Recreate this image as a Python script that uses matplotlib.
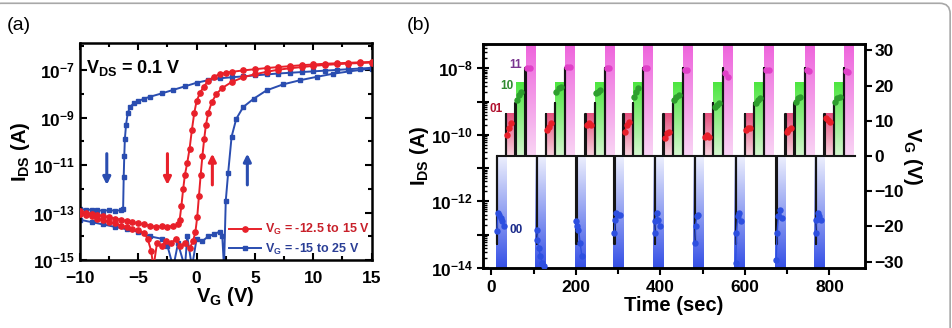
import matplotlib
matplotlib.use('Agg')
import matplotlib.pyplot as plt
import matplotlib.ticker as mticker
from matplotlib.colors import LinearSegmentedColormap
from matplotlib.patches import FancyBboxPatch
import numpy as np

plt.rcParams.update({
    'font.family': 'Liberation Sans',
    'font.weight': 'bold',
    'axes.labelweight': 'bold',
    'mathtext.fontset': 'custom',
    'mathtext.rm': 'Liberation Sans:bold',
    'mathtext.bf': 'Liberation Sans:bold',
    'mathtext.it': 'Liberation Sans:bold',
    'axes.linewidth': 1.8,
    'figure.facecolor': 'white',
})

# ─── (a) transfer curves: V_G (V) and log10(I_DS / A) ───────────────
red_down_v = [15, 14, 13, 12, 11, 10, 9, 8, 7, 6, 5, 4, 3, 2.5, 2, 1.5, 1.0, 0.6, 0.3, 0.0,
              -0.2, -0.4, -0.6, -0.8, -1.0, -1.15, -1.3, -1.45, -1.6, -2, -2.5, -3, -3.5, -4,
              -4.5, -5, -5.5, -6, -6.5, -7, -7.5, -8, -8.5, -9, -9.5, -10]
red_down_log = [-6.65, -6.67, -6.69, -6.71, -6.73, -6.76, -6.79, -6.83, -6.87, -6.91, -6.96, -7.01,
                -7.07, -7.11, -7.17, -7.27, -7.45, -7.7, -7.95, -8.3, -8.8, -9.5, -10.3, -10.9,
                -11.4, -12.0, -12.7, -13.3, -13.5, -13.55, -13.6, -13.58, -13.6, -13.55, -13.5,
                -13.45, -13.4, -13.35, -13.3, -13.25, -13.2, -13.15, -13.1, -13.05, -13.0, -12.95]
red_up_v = [-10, -9.5, -9, -8.5, -8, -7.5, -7, -6.5, -6, -5.5, -5, -4.5, -4.2, -3.9, -3.7, -3.4,
            -3.0, -2.6, -2.2, -1.8, -1.4, -1.0, -0.6, -0.3, -0.1, 0.05, 0.2, 0.35, 0.5, 0.65,
            0.8, 1.0, 1.3, 1.7, 2.2, 3, 4, 5, 6, 7, 8, 9, 10, 11, 12, 13, 14, 15]
red_up_log = [-13.05, -13.1, -13.15, -13.25, -13.3, -13.4, -13.45, -13.55, -13.6, -13.7, -13.75,
              -13.85, -14.1, -14.6, -15.3, -14.3, -14.4, -14.2, -14.3, -14.1, -14.4, -14.3, -14.5,
              -14.2, -13.8, -13.2, -12.3, -11.4, -10.6, -9.9, -9.3, -8.8, -8.35, -8.0, -7.75,
              -7.5, -7.3, -7.17, -7.07, -6.98, -6.92, -6.87, -6.82, -6.78, -6.75, -6.72, -6.7, -6.68]
blue_down_v = [15, 14, 13, 12, 11, 10, 9, 8, 7, 6, 5, 4, 3, 2, 1, 0, -1, -2, -3, -4, -4.5, -5,
               -5.4, -5.7, -5.9, -6.05, -6.15, -6.2, -6.25, -6.3, -6.5, -7, -7.5, -8, -8.5, -9,
               -9.5, -10]
blue_down_log = [-6.9, -6.93, -6.96, -6.99, -7.02, -7.05, -7.08, -7.11, -7.14, -7.18, -7.22, -7.26,
                 -7.3, -7.34, -7.42, -7.53, -7.68, -7.83, -7.98, -8.12, -8.2, -8.3, -8.4, -8.55,
                 -8.8, -9.3, -9.9, -10.6, -11.5, -12.85, -12.9, -12.92, -12.9, -12.92, -12.9,
                 -12.88, -12.87, -12.85]
blue_up_v = [-10, -9, -8, -7, -6, -5, -4, -3, -2.5, -2, -1.6, -1, -0.8, -0.4, 0, 0.5, 1, 1.5,
             2.0, 2.2, 2.35, 2.5, 2.7, 3.0, 3.4, 4, 4.9, 6, 7.4, 8.9, 10.3, 11.7, 13.1, 15]
blue_up_log = [-13.3, -13.4, -13.5, -13.6, -13.7, -13.8, -14.0, -14.1, -14.4, -15.3, -14.3,
               -15.3, -14.0, -15.3, -14.1, -14.2, -14.0, -13.9, -13.8, -14.0, -15.3, -12.5,
               -11.35, -9.8, -9.05, -8.55, -8.2, -7.85, -7.6, -7.42, -7.28, -7.15, -7.05, -6.93]

arrow_v = [-7.7, -2.5, 1.35, 4.35]
arrow_dir = [-1, -1, 1, 1]
arrow_col = ['#2A4DB0', '#E8202A', '#E8202A', '#2A4DB0']

# ─── (b) retention of four states over time ─────────────────────────
cycle_start = [10, 104, 198, 288, 383, 478, 575, 671, 764]
states = ['00', '01', '10', '11']
band_t0 = [0, 25, 47, 71]
band_t1 = [24, 47, 71, 94]
band_vlo = [-32, 0, 0, 0]
band_vhi = [0, 12, 21, 32]
band_top_col = ['#EEF0FD', '#E5507E', '#4DE640', '#EE62DC']
band_bot_col = ['#3550E6', '#F9D3DF', '#D5F7CF', '#F9D4F4']
pulse_off = [3, 24, 46, 70]
pulse_amp = [-25, 12, 15, 25]
pulse_w = 1
wave_end = 860

pt_off = [[3, 5, 8, 12, 16, 20], [28, 32, 37], [50, 55, 60], [75, 81]]
log_00 = [[-12.9, -12.35, -12.4, -12.5, -12.6, -12.75], [-12.85, -13.15, -13.4, -13.65, -13.85, -13.95],
          [-12.6, -12.75, -12.85, -13.25, -13.65], [-12.95, -12.55, -12.35, -12.4, -12.4],
          [-12.95, -12.6, -12.35, -12.55, -12.75], [-13.25, -12.75, -12.45, -12.4],
          [-13.85, -12.95, -12.45, -12.35, -12.6], [-13.75, -12.95, -12.45, -12.25, -12.5],
          [-12.95, -12.55, -12.35, -12.45, -12.55]]
log_01 = [[-10.0, -9.8, -9.65], [-9.85, -9.75, -9.65], [-9.7, -9.65, -9.7], [-9.9, -9.7, -9.6],
          [-10.1, -9.95, -9.9], [-10.05, -10.0, -10.05], [-9.85, -9.8, -9.8], [-9.9, -9.85, -9.8],
          [-9.5, -9.55, -9.6]]
log_10 = [[-8.95, -8.8, -8.7], [-8.7, -8.6, -8.55], [-8.75, -8.7, -8.65], [-8.85, -8.7, -8.6],
          [-8.95, -8.85, -8.8], [-9.15, -9.1, -9.05], [-9.05, -8.95, -8.9], [-9.0, -8.9, -8.85],
          [-9.0, -8.9, -8.85]]
log_11 = [[-8.0, -7.98], [-7.95, -7.95], [-7.98, -8.0], [-8.0, -8.0], [-8.05, -8.05],
          [-8.15, -8.25], [-8.05, -8.05], [-8.05, -8.07], [-8.08, -8.1]]
state_logs = [log_00, log_01, log_10, log_11]
pt_col = ['#2D4FE0', '#E8202A', '#2E9E2E', '#E040C8']
lbl_col = ['#1A2A8A', '#B0102E', '#2F8A2F', '#7A3590']
lbl_t = [58, 12, 36, 58]
lbl_log = [-12.85, -9.23, -8.53, -7.9]

fig = plt.figure(figsize=(9.53, 3.28), dpi=100)

# ---------- panel (a)
ax = fig.add_axes([0.0839, 0.207, 0.306, 0.662])
ax.plot(red_down_v, 10 ** np.array(red_down_log), '-o', color='#E8202A', ms=3.8, lw=1.4, zorder=3)
ax.plot(red_up_v, 10 ** np.array(red_up_log), '-o', color='#E8202A', ms=3.8, lw=1.4, zorder=3,
        label=r'$\mathbf{V_G}$ = -12.5 to 15 V')
ax.plot(blue_down_v, 10 ** np.array(blue_down_log), '-s', color='#2A4DB0', ms=3.5, lw=1.4, zorder=2)
ax.plot(blue_up_v, 10 ** np.array(blue_up_log), '-s', color='#2A4DB0', ms=3.5, lw=1.4, zorder=2,
        label=r'$\mathbf{V_G}$ = -15 to 25 V')
for v, d, c in zip(arrow_v, arrow_dir, arrow_col):
    lo, hi = 10 ** -11.95, 10 ** -10.4
    start, end = (hi, lo) if d < 0 else (lo, hi)
    ax.annotate('', xy=(v, end), xytext=(v, start),
                arrowprops=dict(arrowstyle='-|>', color=c, lw=2.2, mutation_scale=11))
ax.set_yscale('log')
ax.set_xlim(-10, 15)
ax.set_ylim(1e-15, 1.4e-6)
ax.set_xticks([-10, -5, 0, 5, 10, 15])
ax.xaxis.set_minor_locator(mticker.MultipleLocator(2.5))
ax.set_yticks([1e-15, 1e-13, 1e-11, 1e-9, 1e-7])
ax.set_yticklabels([r'$\mathbf{10^{-15}}$', r'$\mathbf{10^{-13}}$', r'$\mathbf{10^{-11}}$',
                    r'$\mathbf{10^{-9}}$', r'$\mathbf{10^{-7}}$'])
ax.yaxis.set_minor_locator(mticker.FixedLocator([1e-14, 1e-12, 1e-10, 1e-8, 1e-6]))
ax.yaxis.set_minor_formatter(mticker.NullFormatter())
ax.tick_params(which='both', direction='in', top=True, right=True, labelsize=12.5, width=1.5)
ax.tick_params(which='major', length=5)
ax.tick_params(which='minor', length=3)
ax.tick_params(axis='x', pad=8)
ax.set_xlabel(r'$\mathbf{V_G}$ (V)', fontsize=14.5, labelpad=-1)
ax.set_ylabel(r'$\mathbf{I_{DS}}$ (A)', fontsize=14.5, labelpad=1)
ax.text(0.02, 0.885, r'$\mathbf{V_{DS}}$ = 0.1 V', transform=ax.transAxes, fontsize=13,
        va='center', ha='left', fontweight='bold')
leg = ax.legend(loc='lower right', bbox_to_anchor=(1.02, -0.02), frameon=False,
                prop={'size': 9, 'weight': 'bold'},
                handlelength=2.6, handletextpad=0.3, labelspacing=0.35, borderaxespad=0.2)
for t, c in zip(leg.get_texts(), ['#C8202A', '#2A3E96']):
    t.set_color(c)
    t.set_fontweight('bold')

# ---------- panel (b)
axb = fig.add_axes([0.5068, 0.183, 0.4008, 0.683])
axv = axb.twinx()
axb.set_zorder(axv.get_zorder() + 1)
axb.patch.set_visible(False)

grad = np.linspace(0, 1, 64).reshape(-1, 1)
for k in range(len(states)):
    cmap = LinearSegmentedColormap.from_list('b%d' % k, [band_bot_col[k], band_top_col[k]])
    for t0 in cycle_start:
        axv.imshow(grad, cmap=cmap, origin='lower', aspect='auto', interpolation='bilinear',
                   extent=[t0 + band_t0[k], t0 + band_t1[k], band_vlo[k], band_vhi[k]], zorder=1)

wave_t, wave_v = [], []
for t0 in cycle_start:
    for off, amp in zip(pulse_off, pulse_amp):
        tp = t0 + off
        wave_t += [tp, tp, tp + pulse_w, tp + pulse_w]
        wave_v += [0, amp, amp, 0]
wave_t.append(wave_end)
wave_v.append(0)
axv.plot(wave_t, wave_v, color='#151515', lw=1.5, zorder=2, solid_joinstyle='round')

for k in range(len(states)):
    for t0, vals in zip(cycle_start, state_logs[k]):
        tt = [t0 + o for o in pt_off[k][:len(vals)]]
        axb.plot(tt, 10 ** np.array(vals), '-o', color=pt_col[k], ms=3.6, lw=1.0, zorder=3)
    axb.text(lbl_t[k], 10 ** lbl_log[k], states[k], color=lbl_col[k], fontsize=8.5,
             ha='center', va='center', zorder=4, fontweight='bold')

axb.set_xlim(-20, 884)
axb.set_yscale('log')
axb.set_ylim(1e-14, 5.4e-8)
axv.set_ylim(-31.8, 31.8)
axv.set_xlim(-20, 884)
axb.set_xticks([0, 200, 400, 600, 800])
axb.xaxis.set_minor_locator(mticker.MultipleLocator(100))
axb.yaxis.set_major_locator(mticker.FixedLocator([1e-14, 1e-13, 1e-12, 1e-11, 1e-10, 1e-9, 1e-8]))
axb.yaxis.set_major_formatter(mticker.FixedFormatter(
    [r'$\mathbf{10^{-14}}$', '', r'$\mathbf{10^{-12}}$', '', r'$\mathbf{10^{-10}}$', '',
     r'$\mathbf{10^{-8}}$']))
axb.yaxis.set_minor_locator(mticker.LogLocator(base=10, subs=np.arange(2, 10), numticks=20))
axb.yaxis.set_minor_formatter(mticker.NullFormatter())
axb.tick_params(axis='y', which='major', direction='inout', length=8, width=1.5, labelsize=12.5)
axb.tick_params(axis='y', which='minor', direction='in', length=3, width=1.0)
axb.tick_params(axis='x', which='both', direction='out', width=1.5, labelsize=12.5)
axb.tick_params(axis='x', which='major', length=5)
axb.tick_params(axis='x', which='minor', length=4)
axv.set_yticks([-30, -20, -10, 0, 10, 20, 30])
axv.tick_params(axis='y', direction='out', length=5, width=1.5, labelsize=12.5, pad=2)
axb.set_xlabel('Time (sec)', fontsize=14.5, labelpad=1)
axb.set_ylabel(r'$\mathbf{I_{DS}}$ (A)', fontsize=14.5, labelpad=0)
axv.set_ylabel(r'$\mathbf{V_G}$ (V)', fontsize=14.5, rotation=270, labelpad=14)

for a in (ax, axb, axv):
    for lab in a.get_xticklabels() + a.get_yticklabels():
        lab.set_fontweight('bold')

# ---------- panel letters and frame
fig.text(0.007, 0.922, '(a)', fontsize=14, fontweight='normal', va='center')
fig.text(0.427, 0.922, '(b)', fontsize=14, fontweight='normal', va='center')
frame = FancyBboxPatch((-0.01, -0.05), 1.007, 1.04, transform=fig.transFigure,
                       boxstyle='round,pad=0,rounding_size=0.011', mutation_aspect=2.9,
                       facecolor='none', edgecolor='#A8A8A8', lw=1.2)
fig.patches.append(frame)

fig.savefig('out.png', dpi=100, facecolor='white')
